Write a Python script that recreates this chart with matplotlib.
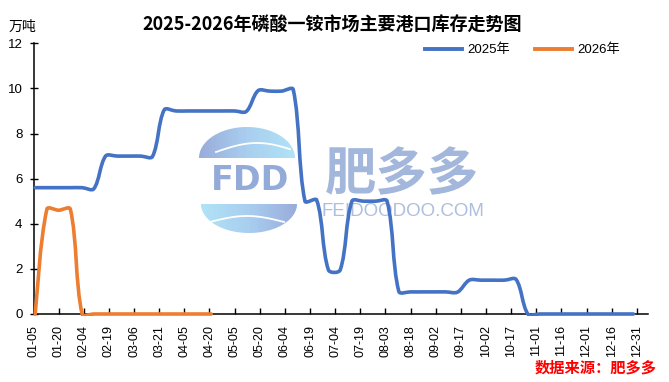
import numpy as np
import pandas as pd
import matplotlib
matplotlib.use('Agg')
import matplotlib.pyplot as plt
from matplotlib.path import Path
from matplotlib.patches import PathPatch, Rectangle
from matplotlib.lines import Line2D
from matplotlib.colors import LinearSegmentedColormap

plt.rcParams['font.family'] = ['Liberation Sans', 'Noto Sans CJK SC']

# weekly readings, 10k tonnes
weeks_2025 = pd.date_range('2025-01-06', periods=52, freq='7D')
stock_2025 = [5.6, 5.6, 5.6, 5.6, 5.6, 5.55, 7.0, 7.0, 7.0, 7.0,
              6.98, 9.05, 9.0, 9.0, 9.0, 9.0, 9.0, 9.0, 8.98, 9.9,
              9.88, 9.88, 9.95, 5.0, 5.05, 1.95, 1.95, 5.0, 5.0, 5.0,
              5.0, 1.0, 0.98, 0.98, 0.98, 0.98, 0.97, 1.5, 1.5, 1.5,
              1.5, 1.53, 0, 0, 0, 0, 0, 0, 0, 0,
              0, 0]
weeks_2026 = pd.date_range('2025-01-06', periods=16, freq='7D')  # 2026 shown on same month-day axis
stock_2026 = [0, 4.65, 4.6, 4.65, 0, 0, 0, 0, 0, 0, 0, 0, 0, 0, 0, 0]

tick_labels = ['01-05', '01-20', '02-04', '02-19', '03-06', '03-21', '04-05',
               '04-20', '05-05', '05-20', '06-04', '06-19', '07-04', '07-19',
               '08-03', '08-18', '09-02', '09-17', '10-02', '10-17', '11-01',
               '11-16', '12-01', '12-16', '12-31']
series_names = ['2025年', '2026年']
colors = ['#4472C4', '#ED7D31']

start = pd.Timestamp('2025-01-05')


def days(idx):
    return np.asarray((idx - start).days, dtype=float)


def smooth_path(ax, x, y):
    # smoothed line like excel: bezier through each point, handles scaled by chord length
    tr = ax.transData
    pts = tr.transform(np.column_stack([x, y]))
    n = len(pts)
    seg = np.hypot(*np.diff(pts, axis=0).T)
    verts = [pts[0]]
    codes = [Path.MOVETO]
    for i in range(n - 1):
        p1, p2 = pts[i], pts[i + 1]
        p0 = pts[i - 1] if i > 0 else p1
        p3 = pts[i + 2] if i + 2 < n else p2
        l0 = seg[i - 1] if i > 0 else seg[i]
        l2 = seg[i + 1] if i + 2 < n else seg[i]
        l1 = seg[i]
        c1 = p1 + (p2 - p0) * l1 / max(l0 + l1, 1e-9) / 3
        c2 = p2 - (p3 - p1) * l1 / max(l1 + l2, 1e-9) / 3
        verts += [c1, c2, p2]
        codes += [Path.CURVE4] * 3
    return Path(tr.inverted().transform(np.array(verts)), codes)


W, H = 669, 382
fig = plt.figure(figsize=(W / 100, H / 100), dpi=100)

# ---- watermark, drawn in pixel coordinates behind the chart
bg = fig.add_axes([0, 0, 1, 1], zorder=0)
bg.axis('off')


def leaf(cx, cy, rx, ry, top, cmap_colors):
    t = np.linspace(np.pi, 0, 60) if top else np.linspace(np.pi, 2 * np.pi, 60)
    verts = np.column_stack([cx + rx * np.cos(t), cy - ry * np.sin(t)])
    patch = PathPatch(Path(np.vstack([verts, verts[:1]])), facecolor='none', edgecolor='none')
    bg.add_patch(patch)
    grad = np.linspace(0, 1, 200).reshape(1, -1)
    cm = LinearSegmentedColormap.from_list('g', cmap_colors)
    im = bg.imshow(grad, extent=(cx - rx, cx + rx, cy + ry, cy - ry), cmap=cm,
                   aspect='auto', alpha=0.9, interpolation='bilinear')
    im.set_clip_path(patch)


leaf(247, 158, 48, 31, True, ['#8ea3d6', '#9fc9ee', '#a8e0f6'])
leaf(249, 204, 48, 29, False, ['#a8e0f6', '#9fc9ee', '#8ea3d6'])
sx = np.linspace(216, 290, 40)
bg.plot(sx, 152 - 9 * np.sin((sx - 216) / 74 * np.pi * 0.9), color='white', lw=1.3)
sx = np.linspace(210, 284, 40)
bg.plot(sx, 222 - 6 * np.sin((sx - 210) / 74 * np.pi), color='white', lw=1.3)
bg.text(250, 180, 'FDD', ha='center', va='center', fontsize=24, fontweight='bold',
        color='#93abd8', family='DejaVu Sans')
bg.text(402, 175, '肥多多', ha='center', va='center', fontsize=37, fontweight='bold',
        color='#a2b7db', family='Noto Sans CJK SC')
bg.text(403, 211, 'FEIDOODOO.COM', ha='center', va='center', fontsize=13.5,
        color='#aebfdd', family='Liberation Sans')
bg.set_xlim(0, W)
bg.set_ylim(H, 0)

# ---- main chart
ax = fig.add_axes([33.5 / W, 1 - 314 / H, (647.7 - 33.5) / W, (314 - 43.3) / H], zorder=1)
ax.patch.set_alpha(0)
ax.set_xlim(0, 366.5)
ax.set_ylim(0, 12)
clip = Rectangle((-0.01, -0.008), 1.02, 1.1, transform=ax.transAxes, facecolor='none')

for xs, ys, c in [(days(weeks_2025), stock_2025, colors[0]),
                  (days(weeks_2026), stock_2026, colors[1])]:
    pp = PathPatch(smooth_path(ax, xs, np.array(ys, dtype=float)), facecolor='none',
                   edgecolor=c, lw=2.6, capstyle='round', joinstyle='round',
                   transform=ax.transData, zorder=3)
    ax.add_patch(pp)
    pp.set_clip_path(clip)

ax.set_xlim(0, 366.5)
ax.set_ylim(0, 12)
ax.set_yticks(np.arange(0, 13, 2))
ax.set_xticks(np.arange(0, 361, 15))
ax.set_xticklabels(tick_labels, rotation=90, fontsize=9)
ax.tick_params(axis='x', direction='in', length=4, width=1, pad=8)
ax.tick_params(axis='y', direction='inout', length=6, width=1, pad=5, labelsize=9.5)
for s in ['top', 'right']:
    ax.spines[s].set_visible(False)
for s in ['left', 'bottom']:
    ax.spines[s].set_linewidth(1.1)
    ax.spines[s].set_color('black')

handles = [Line2D([], [], color=c, lw=2.8) for c in colors]
fig.legend(handles, series_names, loc='center right', ncol=2, frameon=False,
           bbox_to_anchor=(620 / W, 1 - 50 / H), fontsize=9.5, handlelength=2.8,
           handletextpad=0.4, columnspacing=1.9, borderpad=0, borderaxespad=0)

fig.text(332 / W, 1 - 25 / H, '2025-2026年磷酸一铵市场主要港口库存走势图',
         ha='center', va='center', fontsize=13, fontweight='bold',
         family='Noto Sans CJK SC')
fig.text(22 / W, 1 - 27 / H, '万吨', ha='center', va='center', fontsize=10,
         family='Noto Sans CJK SC')
fig.text(657 / W, 1 - 368 / H, '数据来源：肥多多', ha='right', va='center',
         fontsize=11, fontweight='bold', style='italic', color='#FF0000',
         family='Noto Sans CJK SC')

fig.savefig('out.png', dpi=100)
